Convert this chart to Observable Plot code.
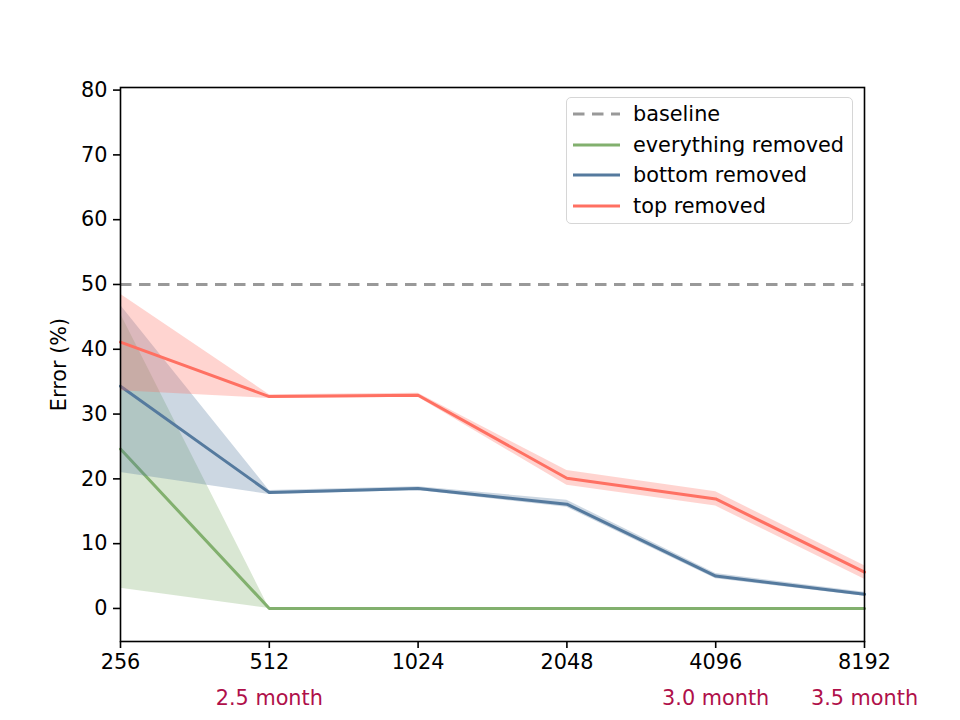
<!DOCTYPE html>
<html>
<head>
<meta charset="utf-8">
<script src="https://cdn.jsdelivr.net/npm/d3@7"></script>
<script src="https://cdn.jsdelivr.net/npm/@observablehq/plot@0.6"></script>
<style>
  html, body { margin: 0; padding: 0; background: #fff; }
  #wrap { position: relative; width: 960px; height: 720px; font-family: "DejaVu Sans", sans-serif; }
  #legend { position: absolute; left: 566px; top: 97px; width: 287px; height: 127px; box-sizing: border-box;
    border: 1.5px solid #d6d6d6; border-radius: 5px; background: rgba(255,255,255,0.8); }
  .row { position: absolute; left: 6px; height: 31px; display: flex; align-items: center; font-size: 20.8px; color: #000; white-space: nowrap; }
  .row svg { margin-right: 13px; }
</style>
</head>
<body>
<div id="wrap"><div id="legend"></div></div>
<script>
const sizes = [256, 512, 1024, 2048, 4096, 8192];
const seriesNames = ["everything removed", "bottom removed", "top removed"];
const seriesColors = ["#82b06e", "#557a9e", "#ff7062"];
const everything = [24.6, 0, 0, 0, 0, 0];
const everythingLo = [3.1, 0, 0, 0, 0, 0];
const everythingHi = [45.5, 0, 0, 0, 0, 0];
const bottom = [34.3, 17.9, 18.5, 16.1, 5.0, 2.2];
const bottomLo = [21.0, 17.6, 18.2, 15.6, 4.6, 1.9];
const bottomHi = [46.8, 18.2, 18.8, 16.7, 5.4, 2.5];
const topR = [41.1, 32.7, 32.9, 20.1, 16.9, 5.6];
const topLo = [33.6, 32.4, 32.6, 19.0, 15.8, 4.5];
const topHi = [48.5, 33.0, 33.2, 21.3, 18.0, 6.6];
const baselineValue = 50;
const yTicks = [0, 10, 20, 30, 40, 50, 60, 70, 80];
const monthSizes = [512, 4096, 8192];
const monthLabels = ["2.5 month", "3.0 month", "3.5 month"];

const vals = [everything, bottom, topR];
const los = [everythingLo, bottomLo, topLo];
const his = [everythingHi, bottomHi, topHi];
const rows = [];
seriesNames.forEach((name, s) => sizes.forEach((x, i) => rows.push({series: name, x, y: vals[s][i], lo: los[s][i], hi: his[s][i]})));
const months = monthSizes.map((x, i) => ({x, label: monthLabels[i]}));

const marks = [
  Plot.ruleY([baselineValue], {stroke: "#999999", strokeWidth: 3, strokeDasharray: "11.5,7.5"})
];
seriesNames.forEach((name, s) => {
  const d = rows.filter(r => r.series === name);
  marks.push(Plot.areaY(d, {x: "x", y1: "lo", y2: "hi", fill: seriesColors[s], fillOpacity: 0.3}));
  marks.push(Plot.line(d, {x: "x", y: "y", stroke: seriesColors[s], strokeWidth: 3}));
});
marks.push(Plot.frame({stroke: "#000", strokeWidth: 1.6}));
marks.push(Plot.axisX({ticks: sizes, tickFormat: d => String(d), tickSize: 7, tickPadding: 6, strokeWidth: 1.6, fontSize: 20.8, label: null}));
marks.push(Plot.axisY({ticks: yTicks, tickSize: 7, tickPadding: 6, strokeWidth: 1.6, fontSize: 20.8, label: "Error (%)", labelAnchor: "center", labelArrow: "none", labelOffset: 69}));
marks.push(Plot.text(months, {x: "x", text: "label", frameAnchor: "bottom", dy: 57, fill: "#b0104a", fontSize: 20.8, lineAnchor: "middle"}));

const chart = Plot.plot({
  width: 960, height: 720,
  marginLeft: 120, marginRight: 96, marginTop: 87, marginBottom: 79,
  style: {fontFamily: "DejaVu Sans", fontSize: "20.8px", background: "#fff", color: "#000"},
  x: {type: "log", base: 2, domain: [256, 8192]},
  y: {domain: [-5.1, 80.4]},
  marks
});
const wrap = document.getElementById("wrap");
wrap.insertBefore(chart, wrap.firstChild);

const legend = document.getElementById("legend");
const legItems = [{name: "baseline", color: "#999999", dash: "11.5,7.5"}].concat(seriesNames.map((n, i) => ({name: n, color: seriesColors[i], dash: null})));
legItems.forEach((it, i) => {
  const row = document.createElement("div");
  row.className = "row";
  row.style.top = (i * 30.7 + 0.5) + "px";
  row.innerHTML = `<svg width="47" height="6"><line x1="0" y1="3" x2="47" y2="3" stroke="${it.color}" stroke-width="3" ${it.dash ? `stroke-dasharray="${it.dash}"` : ""}/></svg><span>${it.name}</span>`;
  legend.appendChild(row);
});
</script>
</body>
</html>
